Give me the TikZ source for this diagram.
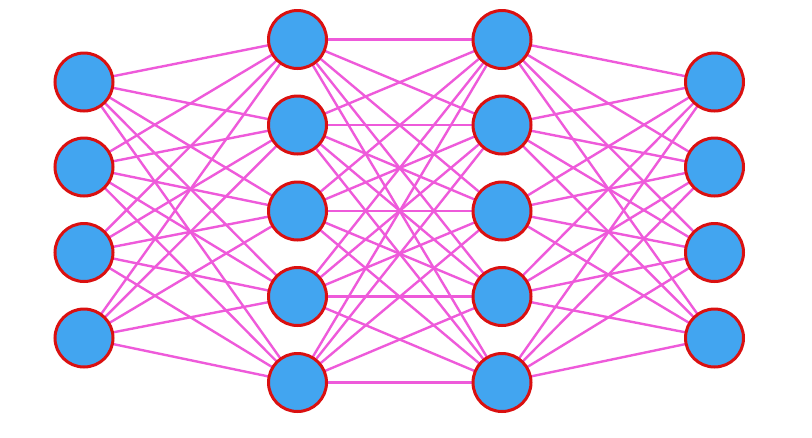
\documentclass[tikz,border=0pt]{standalone}
\usepackage{tikz}
\usetikzlibrary{backgrounds}
\definecolor{nodefill}{HTML}{42A5F0}
\definecolor{nodeborder}{HTML}{DA1010}
\definecolor{edgecol}{HTML}{EE5ADA}
\begin{document}
\begin{tikzpicture}[x=1pt,y=-1pt,
  neuron/.style={circle,draw=nodeborder,fill=nodefill,line width=3pt,minimum size=58pt,inner sep=0pt},
  conn/.style={draw=edgecol,line width=2.4pt}]
\useasboundingbox (0,0) rectangle (812,437);
% input layer
\foreach \i/\y in {1/82,2/167,3/252.5,4/338}
  \node[neuron] (a\i) at (84,\y) {};
% hidden layer 1
\foreach \i/\y in {1/39.5,2/125,3/211,4/296.5,5/382.5}
  \node[neuron] (b\i) at (297.5,\y) {};
% hidden layer 2
\foreach \i/\y in {1/39.5,2/125,3/211,4/296.5,5/382.5}
  \node[neuron] (c\i) at (502,\y) {};
% output layer
\foreach \i/\y in {1/82,2/167,3/252.5,4/338}
  \node[neuron] (d\i) at (714.5,\y) {};
\begin{scope}[on background layer]
  \foreach \i in {1,...,4}
    \foreach \j in {1,...,5}
      \draw[conn] (a\i.center) -- (b\j.center);
  \foreach \i in {1,...,5}
    \foreach \j in {1,...,5}
      \draw[conn] (b\i.center) -- (c\j.center);
  \foreach \i in {1,...,5}
    \foreach \j in {1,...,4}
      \draw[conn] (c\i.center) -- (d\j.center);
\end{scope}
\end{tikzpicture}
\end{document}
